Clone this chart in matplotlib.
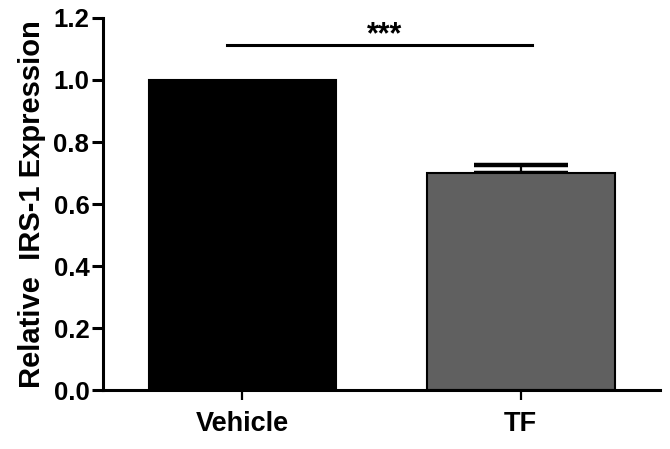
import matplotlib
matplotlib.use("Agg")
import matplotlib.pyplot as plt

# --- data ---------------------------------------------------------------
groups = ["Vehicle", "TF"]
means = [1.0, 0.70]
sem_upper = [0.0, 0.026]
bar_colors = ["#000000", "#606060"]
y_ticks = [0.0, 0.2, 0.4, 0.6, 0.8, 1.0, 1.2]
sig_label = "***"
sig_y = 1.113
sig_span = [-0.055, 1.04]

plt.rcParams.update({
    "font.family": ["Liberation Sans", "DejaVu Sans"],
    "font.weight": "bold",
})

fig = plt.figure(figsize=(6.7, 4.49), dpi=100)
ax = fig.add_axes([0.154, 0.131, 0.831, 0.829])

x = list(range(len(groups)))
ax.bar(x, means, width=0.674, color=bar_colors, edgecolor="black",
       linewidth=1.5, zorder=2)
# only groups with a visible SEM get an (upper-only) error bar
ex = [i for i in x if sem_upper[i] > 0]
ax.errorbar(ex, [means[i] for i in ex],
            yerr=[[0] * len(ex), [sem_upper[i] for i in ex]],
            fmt="none", ecolor="black", elinewidth=1.6, capsize=34,
            capthick=3.2, zorder=1)

ax.plot(sig_span, [sig_y, sig_y], color="black", lw=2.2, clip_on=False)
ax.text(0.51, sig_y - 0.018, sig_label, ha="center", va="bottom",
        fontsize=22, fontweight="bold")

ax.set_xlim(-0.5, 1.5)
ax.set_ylim(0, 1.2)
ax.set_yticks(y_ticks)
ax.set_yticklabels([f"{v:.1f}" for v in y_ticks])
ax.set_xticks(x)
ax.set_xticklabels(groups)
ax.set_ylabel("Relative  IRS-1 Expression", fontsize=21, fontweight="bold",
              labelpad=5)

ax.spines[["top", "right"]].set_visible(False)
for s in ("left", "bottom"):
    ax.spines[s].set_linewidth(2.2)
ax.tick_params(axis="y", length=8, width=2.2, labelsize=18.5, pad=2)
ax.tick_params(axis="x", length=7, width=1.6, labelsize=19.5, pad=8)

fig.savefig("out.png", dpi=100)
